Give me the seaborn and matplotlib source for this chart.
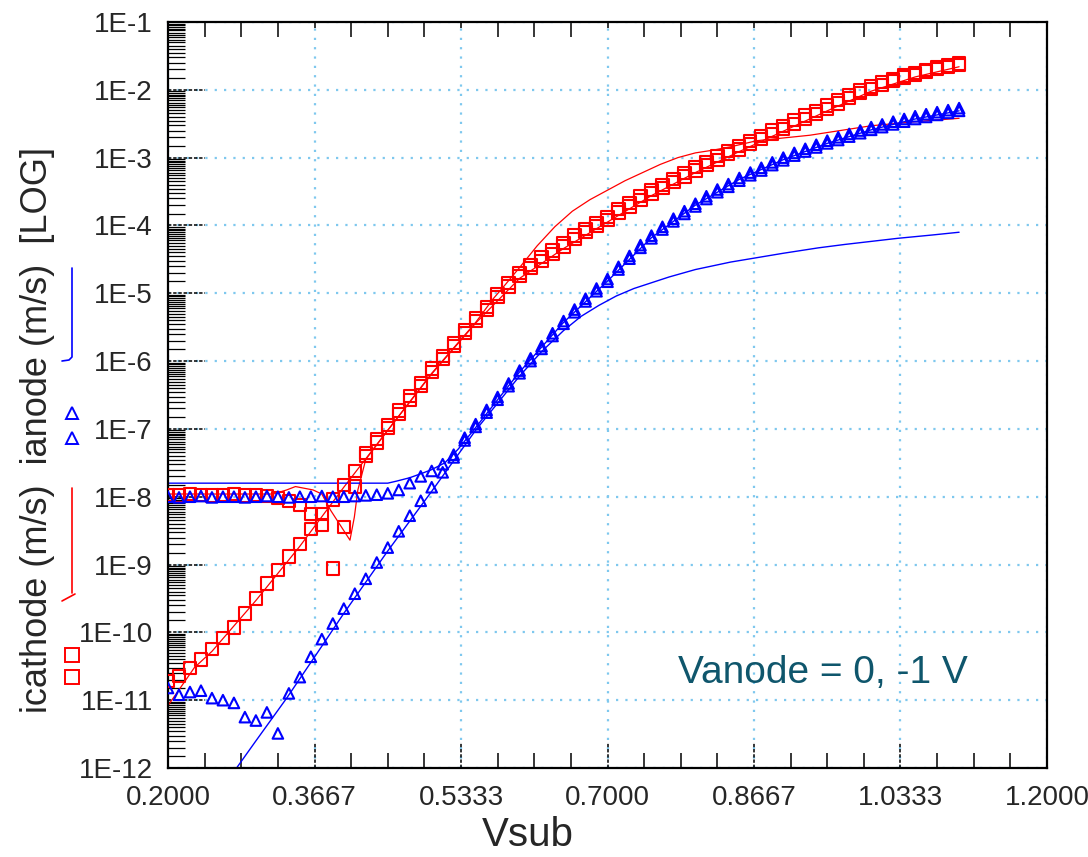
import numpy as np
import pandas as pd
import matplotlib
matplotlib.use("Agg")
import matplotlib.pyplot as plt
from matplotlib.lines import Line2D
from matplotlib.ticker import FixedLocator, FuncFormatter, NullFormatter
import seaborn as sns

sns.set_style("white")
plt.rcParams['font.family'] = ['Liberation Sans', 'DejaVu Sans']

# ---------------- data ----------------
# measured sweep (Vsub, V)
vsub_meas = np.round(np.arange(0.2, 1.1 + 1e-9, 0.0125), 4)

icath_v0_exp = [-10.72, -10.64, -10.53, -10.40, -10.24, -10.08, -9.93, -9.72, -9.50, -9.28,
                -9.08, -8.88, -8.70, -8.48, -8.26, -8.04, -7.83, -7.62, -7.40, -7.20,
                -6.99, -6.78, -6.57, -6.37, -6.16, -5.97, -5.78, -5.59, -5.41, -5.25,
                -5.06, -4.90, -4.75, -4.63, -4.52, -4.42, -4.31, -4.20, -4.10, -4.01,
                -3.92, -3.81, -3.72, -3.62, -3.53, -3.45, -3.36, -3.28, -3.19, -3.11,
                -3.03, -2.95, -2.88, -2.80, -2.73, -2.65, -2.58, -2.50, -2.43, -2.36,
                -2.28, -2.20, -2.12, -2.05, -1.99, -1.93, -1.87, -1.82, -1.78, -1.73,
                -1.69, -1.66, -1.63]
# icathode measured, Vanode = -1
icath_v1_exp = [-7.97, -7.98, -7.96, -7.97, -7.98, -7.97, -7.96, -7.98, -7.97, -7.99,
                -8.02, -8.06, -8.12, -8.25, -8.42, -9.06, -8.45, -7.85, -7.36, -7.15,
                -6.94, -6.73, -6.52, -6.32, -6.11, -5.92, -5.73, -5.54, -5.36, -5.20,
                -5.01, -4.85, -4.70, -4.58, -4.47, -4.37, -4.26, -4.15, -4.05, -3.96,
                -3.87, -3.76, -3.67, -3.57, -3.48, -3.40, -3.31, -3.23, -3.14, -3.06,
                -2.98, -2.90, -2.83, -2.75, -2.68, -2.60, -2.53, -2.45, -2.38, -2.31,
                -2.23, -2.15, -2.08, -2.01, -1.95, -1.89, -1.84, -1.79, -1.75, -1.71,
                -1.67, -1.64, -1.61]
# ianode measured, Vanode = 0
ianode_v0_exp = [-10.82, -10.92, -10.88, -10.86, -10.97, -11.00, -11.04, -11.25, -11.30, -11.18,
                 -11.49, -10.90, -10.66, -10.36, -10.10, -9.87, -9.65, -9.43, -9.21, -8.97,
                 -8.75, -8.51, -8.28, -8.06, -7.86, -7.64, -7.42, -7.17, -6.97, -6.76,
                 -6.57, -6.37, -6.18, -6.00, -5.82, -5.63, -5.45, -5.28, -5.12, -4.97,
                 -4.83, -4.65, -4.49, -4.33, -4.19, -4.06, -3.94, -3.83, -3.72, -3.61,
                 -3.51, -3.43, -3.34, -3.26, -3.19, -3.11, -3.04, -2.97, -2.91, -2.85,
                 -2.79, -2.74, -2.69, -2.64, -2.59, -2.55, -2.51, -2.47, -2.43, -2.40,
                 -2.37, -2.34, -2.31]
# ianode measured, Vanode = -1
ianode_v1_exp = [-8.00, -8.01, -8.00, -7.99, -8.01, -8.00, -8.00, -8.01, -8.00, -7.99,
                 -8.00, -8.01, -8.00, -8.00, -7.99, -8.00, -8.00, -7.99, -7.98, -7.97,
                 -7.95, -7.90, -7.80, -7.70, -7.62, -7.52, -7.38, -7.13, -6.93, -6.72,
                 -6.53, -6.33, -6.14, -5.96, -5.78, -5.59, -5.41, -5.24, -5.08, -4.93,
                 -4.79, -4.61, -4.45, -4.29, -4.15, -4.02, -3.90, -3.79, -3.68, -3.57,
                 -3.47, -3.39, -3.30, -3.22, -3.15, -3.07, -3.00, -2.93, -2.87, -2.81,
                 -2.75, -2.70, -2.65, -2.60, -2.55, -2.51, -2.47, -2.43, -2.39, -2.36,
                 -2.33, -2.30, -2.27]

# simulated curves
sim_cath_v1_x = [0.20, 0.26, 0.32, 0.335, 0.345, 0.365, 0.375, 0.385, 0.395, 0.407, 0.412, 0.416,
                 0.425, 0.45, 0.50, 0.55, 0.57, 0.58, 0.60, 0.62, 0.64, 0.66, 0.68, 0.70, 0.72,
                 0.74, 0.76, 0.78, 0.80, 0.82, 0.84, 0.87, 0.90, 0.93, 0.96, 1.00, 1.05, 1.10]
sim_cath_v1_exp = [-7.96, -7.96, -7.96, -7.90, -7.85, -7.90, -7.96, -8.20, -8.40, -8.64, -8.30, -7.90,
                   -7.45, -7.02, -6.18, -5.43, -5.08, -4.93, -4.62, -4.30, -4.02, -3.79, -3.62, -3.48,
                   -3.34, -3.22, -3.10, -3.00, -2.93, -2.89, -2.84, -2.75, -2.71, -2.67, -2.61, -2.53,
                   -2.47, -2.42]
sim_cath_v0_x = [0.20, 0.215, 0.23, 0.25, 0.30, 0.35, 0.40, 0.45, 0.50, 0.55, 0.60, 0.65, 0.70,
                 0.75, 0.80, 0.85, 0.90, 0.95, 1.00, 1.05, 1.10]
sim_cath_v0_exp = [-11.08, -10.80, -10.52, -10.28, -9.53, -8.73, -7.86, -7.02, -6.19, -5.44, -4.78,
                   -4.34, -3.95, -3.56, -3.22, -2.91, -2.61, -2.31, -2.02, -1.81, -1.66]
sim_an_v1_x = [0.20, 0.30, 0.40, 0.45, 0.46, 0.475, 0.49, 0.50, 0.515, 0.53, 0.55, 0.60, 0.65,
               0.70, 0.75, 0.80, 0.85, 0.90, 0.95, 1.00, 1.05, 1.10]
sim_an_v1_exp = [-7.80, -7.80, -7.80, -7.80, -7.77, -7.72, -7.65, -7.60, -7.50, -7.30, -6.98, -6.16,
                 -5.43, -4.82, -4.18, -3.70, -3.32, -3.03, -2.79, -2.59, -2.43, -2.31]
sim_an_v0_x = [0.278, 0.30, 0.335, 0.37, 0.40, 0.45, 0.50, 0.55, 0.60, 0.625, 0.65, 0.67, 0.69,
               0.71, 0.73, 0.77, 0.80, 0.84, 0.90, 0.94, 0.97, 1.03, 1.07, 1.10]
sim_an_v0_exp = [-12.0, -11.6, -10.97, -10.30, -9.72, -8.80, -7.92, -7.02, -6.22, -5.86, -5.55,
                 -5.34, -5.18, -5.04, -4.93, -4.76, -4.65, -4.54, -4.41, -4.33, -4.28, -4.19,
                 -4.14, -4.10]

x_ticks = [0.2, 0.36667, 0.53333, 0.7, 0.86667, 1.03333, 1.2]
y_decades = list(range(-12, 0))

RED = "#ff0000"
BLUE = "#0000ff"

# ---------------- figure ----------------
W, H = 1088, 857
fig = plt.figure(figsize=(W / 100, H / 100), dpi=100)
ax = fig.add_axes([168 / W, 1 - 768 / H, 879 / W, 746 / H])
ax.set_yscale("log")

def pw(e):
    return 10.0 ** np.asarray(e, dtype=float)

line_kw = dict(ax=ax, estimator=None, sort=False, legend=False, zorder=2)
sns.lineplot(x=sim_cath_v1_x, y=pw(sim_cath_v1_exp), color=RED, lw=0.9, **line_kw)
sns.lineplot(x=sim_cath_v0_x, y=pw(sim_cath_v0_exp), color=RED, lw=0.9, **line_kw)
sns.lineplot(x=sim_an_v1_x, y=pw(sim_an_v1_exp), color=BLUE, lw=1.0, **line_kw)
sns.lineplot(x=sim_an_v0_x, y=pw(sim_an_v0_exp), color=BLUE, lw=1.0, **line_kw)

sq_kw = dict(ax=ax, marker="s", s=78, facecolor="none", edgecolor=RED, linewidth=1.5,
             legend=False, zorder=3)
sns.scatterplot(x=vsub_meas, y=pw(icath_v0_exp), **sq_kw)
sns.scatterplot(x=vsub_meas, y=pw(icath_v1_exp), **sq_kw)
tr_kw = dict(ax=ax, marker="^", s=58, facecolor="none", edgecolor=BLUE, linewidth=1.5,
             legend=False, zorder=4)
sns.scatterplot(x=vsub_meas, y=pw(ianode_v0_exp), **tr_kw)
sns.scatterplot(x=vsub_meas, y=pw(ianode_v1_exp), **tr_kw)

ax.set_xlim(0.2, 1.2)
ax.set_ylim(1e-12, 1e-1)
ax.set_xlabel("")
ax.set_ylabel("")

# ticks
ax.xaxis.set_major_locator(FixedLocator(x_ticks))
ax.xaxis.set_minor_locator(FixedLocator(np.linspace(0.2, 1.2, 25)))
ax.xaxis.set_major_formatter(FuncFormatter(lambda v, p: f"{v:.4f}"))
ax.xaxis.set_minor_formatter(NullFormatter())
ax.yaxis.set_major_locator(FixedLocator([10.0 ** e for e in y_decades]))
ax.yaxis.set_minor_locator(FixedLocator([m * 10.0 ** e for e in range(-12, -1)
                                         for m in np.arange(1.5, 10, 0.5)]))
ax.yaxis.set_major_formatter(FuncFormatter(lambda v, p: f"1E{int(round(np.log10(v)))}"))
ax.yaxis.set_minor_formatter(NullFormatter())

ax.tick_params(axis="x", which="major", direction="in", length=0, pad=12,
               labelsize=20, top=True, bottom=True)
ax.tick_params(axis="x", which="minor", direction="in", length=11, width=1.1,
               top=True, bottom=True, color="black")
ax.tick_params(axis="y", which="major", direction="in", length=0, pad=11,
               labelsize=20, left=True, right=False)
ax.tick_params(axis="y", which="minor", direction="in", length=12, width=0.9,
               left=True, right=False, color="black")

ax.grid(True, which="major", color="#7ec8ee", linestyle=(0, (1, 3.2)), linewidth=1.6)
ax.set_axisbelow(True)

# dashed major tick marks
ax.hlines([10.0 ** e for e in y_decades], 0, 0.042, transform=ax.get_yaxis_transform(),
          colors="black", linestyles=(0, (2.2, 1.2)), lw=1.1, zorder=1.5)
ax.vlines(x_ticks, 0, 0.035, transform=ax.get_xaxis_transform(),
          colors="black", linestyles=(0, (2.2, 1.2)), lw=1.1, zorder=1.5)
ax.vlines(x_ticks, 0.992, 1.0, transform=ax.get_xaxis_transform(),
          colors="black", linestyles="-", lw=1.1, zorder=1.5)

for sp in ax.spines.values():
    sp.set_color("black")
    sp.set_linewidth(1.6)

# labels
fig.text(528 / W, 1 - 846 / H, "Vsub", fontsize=29, ha="center", va="baseline")
fig.text(678 / W, 1 - 683 / H, "Vanode = 0, -1 V", fontsize=28, color="#0f566c",
         ha="left", va="baseline")
fig.text(38 / W, 1 - 430 / H, "icathode (m/s)  ianode (m/s)  [LOG]", fontsize=26,
         rotation=90, ha="center", va="center")

def fp(x, y):
    return x / W, 1 - y / H

# legend glyphs next to the y label
gx = 72
bx, by = zip(*[fp(gx, 268), fp(gx, 357), fp(gx - 3, 360), fp(gx - 10, 361)])
fig.add_artist(Line2D(bx, by, color=BLUE, lw=1.2))
for yy in (413, 438):
    px, py = fp(gx, yy)
    fig.add_artist(Line2D([px], [py], marker="^", markersize=9, mfc="none",
                          mec=BLUE, mew=1.4, ls="none"))
rx, ry = zip(*[fp(gx, 488), fp(gx, 593)])
fig.add_artist(Line2D(rx, ry, color=RED, lw=1.2))
hx, hy = zip(*[fp(gx - 10, 601), fp(gx + 3, 594)])
fig.add_artist(Line2D(hx, hy, color=RED, lw=1.2))
for yy in (655, 677):
    px, py = fp(gx, yy)
    fig.add_artist(Line2D([px], [py], marker="s", markersize=10, mfc="none",
                          mec=RED, mew=1.4, ls="none"))

fig.savefig("out.png", dpi=100)
